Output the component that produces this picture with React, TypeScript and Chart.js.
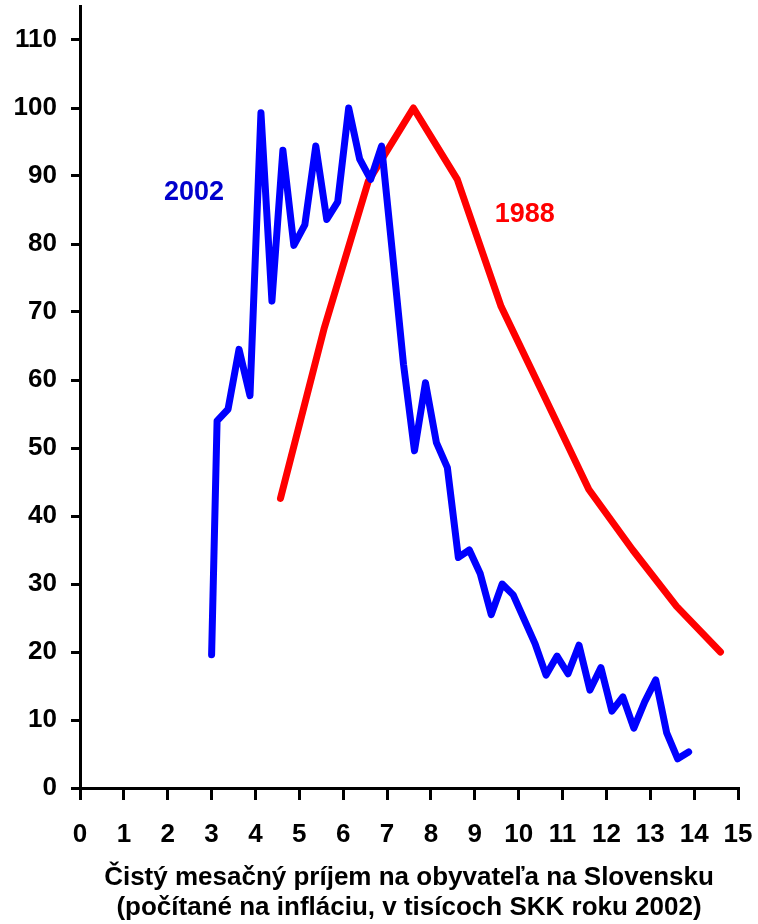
import React, { useEffect, useRef } from "react";
import { Chart, registerables } from "chart.js";

Chart.register(...registerables);

// 2002 series: x in thousands SKK, y relative share
const x2002 = [3.0, 3.125, 3.375, 3.625, 3.875, 4.125, 4.375, 4.625, 4.875, 5.125, 5.375, 5.625, 5.875, 6.125, 6.375, 6.625, 6.875, 7.125, 7.375, 7.625, 7.875, 8.125, 8.375, 8.625, 8.875, 9.125, 9.375, 9.625, 9.875, 10.125, 10.375, 10.625, 10.875, 11.125, 11.375, 11.625, 11.875, 12.125, 12.375, 12.625, 12.875, 13.125, 13.375, 13.625, 13.875];
const y2002 = [19.6, 54.0, 55.7, 64.5, 57.7, 99.3, 71.6, 93.8, 79.8, 82.8, 94.4, 83.6, 86.2, 100.0, 92.5, 89.5, 94.4, 78.5, 62.3, 49.6, 59.6, 50.8, 47.1, 33.9, 35.0, 31.5, 25.5, 30.0, 28.4, 24.8, 21.2, 16.6, 19.4, 16.8, 21.0, 14.4, 17.7, 11.3, 13.4, 8.8, 12.7, 15.9, 8.1, 4.3, 5.3];

// 1988 series
const x1988 = [4.57, 5.57, 6.57, 7.6, 8.6, 9.6, 10.6, 11.6, 12.6, 13.6, 14.6];
const y1988 = [42.6, 67.7, 89.2, 100.0, 89.5, 70.8, 57.4, 43.9, 35.0, 26.7, 20.0];

const xTitle = [
  "Čistý mesačný príjem na obyvateľa na Slovensku",
  "(počítané na infláciu, v tisícoch SKK roku 2002)",
];

const seriesLabels = [
  { text: "2002", x: 2.6, y: 87.5, color: "#0000CC" },
  { text: "1988", x: 10.14, y: 84.3, color: "#FF0000" },
];

const FONT = "Arial, 'Liberation Sans', Helvetica, sans-serif";

export default function App() {
  const ref = useRef<HTMLCanvasElement | null>(null);

  useEffect(() => {
    document.body.style.margin = "0";
    const canvas = ref.current;
    if (!canvas) return;

    const labelPlugin = {
      id: "seriesLabels",
      afterDatasetsDraw(chart: any) {
        const { ctx, scales } = chart;
        ctx.save();
        ctx.font = `bold 27px ${FONT}`;
        ctx.textAlign = "center";
        ctx.textBaseline = "middle";
        for (const l of seriesLabels) {
          ctx.fillStyle = l.color;
          ctx.fillText(l.text, scales.x.getPixelForValue(l.x), scales.y.getPixelForValue(l.y));
        }
        ctx.restore();
      },
    };

    const chart = new Chart(canvas, {
      type: "line",
      data: {
        datasets: [
          {
            label: "2002",
            data: x2002.map((x, i) => ({ x, y: y2002[i] })),
            borderColor: "#0000FF",
            borderWidth: 7,
            pointRadius: 0,
            borderJoinStyle: "round",
            borderCapStyle: "round",
            tension: 0,
          },
          {
            label: "1988",
            data: x1988.map((x, i) => ({ x, y: y1988[i] })),
            borderColor: "#FF0000",
            borderWidth: 7,
            pointRadius: 0,
            borderJoinStyle: "round",
            borderCapStyle: "round",
            tension: 0,
          },
        ],
      },
      options: {
        animation: false,
        responsive: false,
        maintainAspectRatio: false,
        layout: { padding: { top: 6, right: 20, left: 0, bottom: 0 } },
        plugins: {
          legend: { display: false },
          tooltip: { enabled: false },
        },
        scales: {
          x: {
            type: "linear",
            min: 0,
            max: 15,
            ticks: {
              stepSize: 1,
              color: "#000",
              padding: 19,
              font: { family: FONT, size: 26, weight: "bold" },
              maxRotation: 0,
              autoSkip: false,
            },
            grid: {
              display: true,
              drawOnChartArea: false,
              drawTicks: true,
              tickLength: 12,
              color: "#000",
              lineWidth: 3,
            },
            border: { display: true, color: "#000", width: 3 },
            title: {
              display: true,
              text: xTitle,
              color: "#000",
              font: { family: FONT, size: 26, weight: "bold", lineHeight: 1.154 },
              padding: { top: 0, bottom: 1 },
            },
            afterFit(scale: any) {
              scale.height = 136;
              scale.paddingLeft = 0;
              scale.paddingRight = 0;
            },
          },
          y: {
            type: "linear",
            min: 0,
            max: 115,
            ticks: {
              stepSize: 10,
              color: "#000",
              padding: 14,
              font: { family: FONT, size: 26, weight: "bold" },
            },
            afterBuildTicks(scale: any) {
              scale.ticks = scale.ticks.filter((t: any) => t.value % 10 === 0);
            },
            grid: {
              display: true,
              drawOnChartArea: false,
              drawTicks: true,
              tickLength: 9,
              color: "#000",
              lineWidth: 3,
            },
            border: { display: true, color: "#000", width: 3 },
            afterFit(scale: any) {
              scale.width = 80;
              scale.paddingTop = 0;
              scale.paddingBottom = 0;
            },
          },
        },
      },
      plugins: [labelPlugin],
    });

    return () => chart.destroy();
  }, []);

  return (
    <div style={{ width: 758, height: 924 }}>
      <canvas ref={ref} width={758} height={924} style={{ display: "block" }} />
    </div>
  );
}
